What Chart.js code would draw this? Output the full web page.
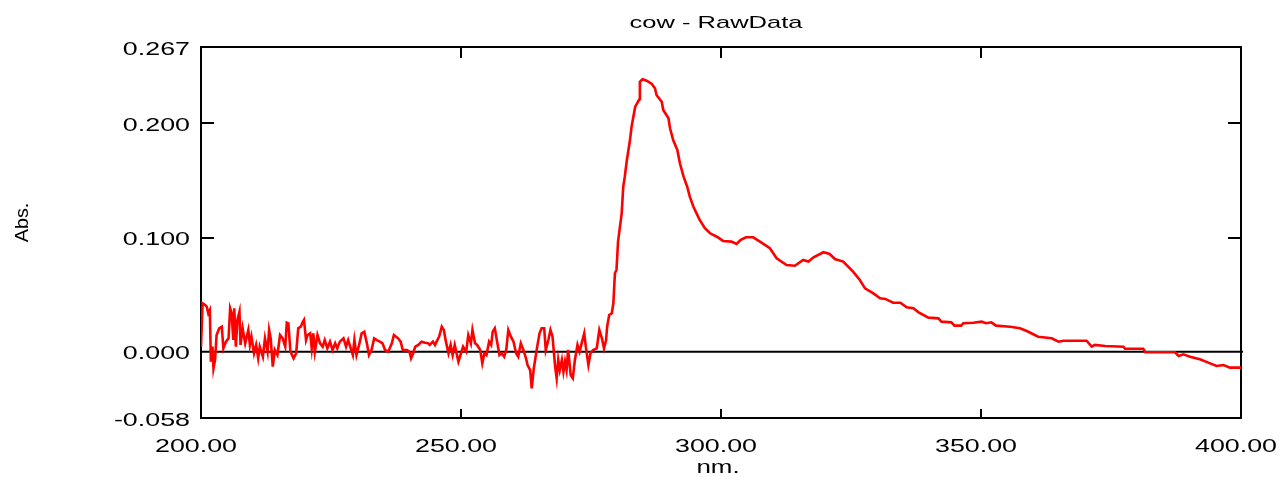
<!DOCTYPE html>
<html lang="en">
<head>
  <meta charset="UTF-8">
  <title>cow - RawData</title>
  <script src="https://cdn.jsdelivr.net/npm/chart.js"></script>
  <style>
    html, body {
      margin: 0;
      padding: 0;
      background: #ffffff;
    }
    #box {
      width: 1280px;
      height: 477px;
      position: relative;
    }
  </style>
</head>
<body>
  <div id="box">
    <canvas id="spectrum"></canvas>
  </div>

  <script>
    // wavelength (nm.) and absorbance
    const wavelength = [
      200.0, 200.3, 200.8, 201.1, 201.4, 201.7, 201.9, 202.2, 202.4, 202.7,
      203.0, 203.5, 204.0, 204.3, 204.8, 205.3, 205.6, 205.9, 206.2, 206.4,
      206.7, 207.0, 207.4, 207.6, 208.0, 208.5, 209.1, 209.4, 209.7, 210.2,
      210.6, 211.0, 211.3, 211.9, 212.3, 212.8, 213.1, 213.4, 213.8, 214.2,
      214.7, 215.2, 215.7, 216.2, 216.5, 216.8, 217.2, 217.8, 218.3, 218.7,
      219.2, 219.6, 219.8, 220.2, 220.5, 221.0, 221.3, 221.6, 221.9, 222.4,
      222.9, 223.4, 223.8, 224.3, 224.8, 225.3, 225.8, 226.2, 226.7, 227.4,
      227.9, 228.3, 228.8, 229.2, 229.5, 229.9, 230.4, 230.9, 231.4, 231.9,
      232.3, 232.8, 233.3, 233.8, 234.4, 234.9, 235.4, 236.0, 236.7, 237.1,
      237.9, 238.4, 238.8, 239.6, 240.1, 240.4, 240.8, 241.2, 241.8, 242.4,
      243.1, 243.7, 244.0, 244.6, 245.0, 245.3, 245.8, 246.3, 246.7, 247.1,
      247.6, 248.0, 248.4, 248.8, 249.5, 249.9, 250.4, 251.0, 251.4, 251.9,
      252.2, 252.7, 253.1, 253.7, 254.1, 254.5, 254.9, 255.4, 255.8, 256.1,
      256.5, 257.0, 257.4, 257.8, 258.3, 258.7, 259.1, 259.6, 260.1, 260.6,
      261.0, 261.5, 262.0, 262.5, 262.8, 263.3, 263.6, 264.0, 264.6, 265.1,
      265.5, 266.0, 266.3, 266.8, 267.2, 267.6, 268.1, 268.4, 268.7, 269.0,
      269.4, 269.7, 270.0, 270.3, 270.6, 271.1, 271.5, 271.9, 272.4, 272.8,
      273.2, 273.7, 274.0, 274.5, 274.9, 275.4, 276.1, 276.6, 277.1, 277.5,
      277.9, 278.1, 278.5, 279.0, 279.3, 279.6, 279.9, 280.2, 280.9, 281.2,
      281.5, 281.9, 282.5, 282.8, 283.5, 284.3, 284.4, 284.9, 285.7, 286.7,
      287.3, 287.6, 288.6, 288.9, 289.9, 290.2, 290.8, 291.6, 292.1, 292.8,
      293.5, 294.0, 294.7, 295.3, 295.9, 296.9, 297.9, 299.2, 300.4, 302.0,
      303.0, 303.8, 304.8, 306.2, 307.5, 309.4, 310.7, 312.6, 314.2, 315.8,
      316.8, 317.8, 319.7, 320.9, 321.9, 323.5, 325.4, 326.7, 327.7, 329.3,
      330.6, 331.6, 333.1, 334.5, 335.7, 337.0, 338.0, 339.9, 341.8, 342.4,
      344.3, 344.9, 346.2, 346.6, 348.5, 350.1, 351.0, 352.0, 352.9, 355.6,
      357.5, 358.8, 361.0, 363.6, 364.9, 365.8, 370.3, 371.3, 371.9, 373.9,
      377.4, 377.7, 381.2, 381.6, 387.3, 388.0, 388.9, 390.2, 392.1, 393.7,
      395.3, 396.6, 397.9, 400.0
    ];
    const absorbance = [
      0.0045, 0.0425, 0.0410, 0.0395, 0.0337, 0.0366, -0.0086, 0.0045, -0.0145, -0.0072,
      0.0147, 0.0206, 0.0220, 0.0030, 0.0089, 0.0118, 0.0381, 0.0337, 0.0103, 0.0381,
      0.0045, 0.0279, 0.0352, 0.0060, 0.0206, 0.0074, 0.0191, 0.0060, 0.0133, -0.0013,
      0.0060, -0.0057, 0.0045, -0.0043, 0.0118, 0.0001, 0.0191, 0.0118, -0.0130, 0.0016,
      -0.0028, 0.0147, 0.0118, 0.0045, 0.0255, 0.0249, 0.0001, -0.0057, -0.0013, 0.0206,
      0.0220, 0.0264, 0.0279, 0.0103, 0.0147, 0.0162, 0.0030, 0.0162, 0.0001, 0.0147,
      0.0074, 0.0045, 0.0103, 0.0030, 0.0089, 0.0016, 0.0074, 0.0030, 0.0089, 0.0118,
      0.0045, 0.0103, 0.0030, -0.0028, 0.0103, -0.0028, 0.0060, 0.0162, 0.0176, 0.0074,
      -0.0028, 0.0016, 0.0118, 0.0103, 0.0089, 0.0074, 0.0016, 0.0001, 0.0074, 0.0147,
      0.0118, 0.0089, 0.0016, 0.0016, 0.0001, -0.0057, -0.0013, 0.0045, 0.0060, 0.0089,
      0.0080, 0.0074, 0.0060, 0.0089, 0.0060, 0.0089, 0.0133, 0.0220, 0.0191, 0.0089,
      -0.0013, 0.0060, -0.0028, 0.0060, -0.0086, -0.0028, 0.0045, 0.0001, 0.0147, 0.0074,
      0.0191, 0.0074, 0.0060, 0.0016, -0.0101, -0.0013, -0.0028, 0.0089, 0.0060, 0.0176,
      0.0206, 0.0074, -0.0028, -0.0013, -0.0043, 0.0016, 0.0191, 0.0133, 0.0089, -0.0013,
      -0.0043, 0.0074, 0.0016, -0.0057, -0.0116, -0.0160, -0.0320, -0.0145, 0.0030, 0.0162,
      0.0206, 0.0206, 0.0016, 0.0103, 0.0191, 0.0133, -0.0130, -0.0232, -0.0072, -0.0160,
      -0.0072, -0.0174, -0.0086, -0.0160, 0.0016, -0.0203, -0.0232, -0.0072, 0.0060, 0.0001,
      0.0074, 0.0162, 0.0045, -0.0116, -0.0013, 0.0016, 0.0030, 0.0191, 0.0118, 0.0030,
      0.0103, 0.0220, 0.0322, 0.0337, 0.0425, 0.0688, 0.0717, 0.0965, 0.1213, 0.1446,
      0.1534, 0.1680, 0.1855, 0.1972, 0.2147, 0.2212, 0.2366, 0.2387, 0.2375, 0.2346,
      0.2308, 0.2250, 0.2191, 0.2118, 0.2046, 0.1958, 0.1855, 0.1768, 0.1651, 0.1534,
      0.1446, 0.1359, 0.1271, 0.1213, 0.1155, 0.1082, 0.1038, 0.1008, 0.0971, 0.0965,
      0.0944, 0.0980, 0.1003, 0.1003, 0.0965, 0.0907, 0.0819, 0.0760, 0.0754, 0.0804,
      0.0790, 0.0828, 0.0872, 0.0857, 0.0813, 0.0790, 0.0702, 0.0629, 0.0556, 0.0512,
      0.0469, 0.0463, 0.0430, 0.0430, 0.0390, 0.0381, 0.0346, 0.0299, 0.0293, 0.0264,
      0.0258, 0.0229, 0.0229, 0.0250, 0.0255, 0.0264, 0.0250, 0.0258, 0.0229, 0.0220,
      0.0206, 0.0182, 0.0132, 0.0118, 0.0088, 0.0097, 0.0097, 0.0045, 0.0060, 0.0051,
      0.0045, 0.0027, 0.0027, -0.0004, -0.0004, -0.0037, -0.0022, -0.0043, -0.0066, -0.0095,
      -0.0124, -0.0116, -0.0139, -0.0139
    ];

    const xTickValues = [200, 250, 300, 350, 400];
    const xTickLabels = ["200.00", "250.00", "300.00", "350.00", "400.00"];
    const yTickValues = [0.267, 0.2, 0.1, 0.0, -0.058];
    const yTickLabels = ["0.267", "0.200", "0.100", "0.000", "-0.058"];

    const chartTitle = "cow - RawData";
    const xTitle = "nm.";
    const yTitle = "Abs.";

    const FONT = "'Liberation Sans', Arial, sans-serif";

    // the reference text is drawn wide, so squeeze it through a horizontal scale
    function wideText(ctx, text, x, y, size, sx, align) {
      ctx.save();
      ctx.translate(x, y);
      ctx.scale(sx, 1);
      ctx.font = size + "px " + FONT;
      ctx.fillStyle = "#000";
      ctx.textAlign = align;
      ctx.textBaseline = "alphabetic";
      ctx.fillText(text, 0, 0);
      ctx.restore();
    }

    const framePlugin = {
      id: "frame",
      beforeDatasetsDraw(chart) {
        const ctx = chart.ctx;
        const a = chart.chartArea;
        const xs = chart.scales.x, ys = chart.scales.y;
        ctx.save();
        ctx.strokeStyle = "#000";
        ctx.lineWidth = 2;
        ctx.strokeRect(a.left, a.top, a.right - a.left, a.bottom - a.top);

        ctx.beginPath();
        // zero line
        const y0 = ys.getPixelForValue(0);
        ctx.moveTo(a.left, y0);
        ctx.lineTo(a.right + 2, y0);
        // inward ticks
        xTickValues.slice(1, -1).forEach(v => {
          const px = Math.round(xs.getPixelForValue(v));
          ctx.moveTo(px, a.top);
          ctx.lineTo(px, a.top + 11);
          ctx.moveTo(px, a.bottom);
          ctx.lineTo(px, a.bottom - 9);
        });
        yTickValues.slice(1, -1).forEach(v => {
          if (v === 0) return;
          const py = Math.round(ys.getPixelForValue(v));
          ctx.moveTo(a.left, py);
          ctx.lineTo(a.left + 13, py);
          ctx.moveTo(a.right, py);
          ctx.lineTo(a.right - 13, py);
        });
        ctx.stroke();
        ctx.restore();
      },
      afterDraw(chart) {
        const ctx = chart.ctx;
        const a = chart.chartArea;
        const xs = chart.scales.x, ys = chart.scales.y;

        yTickValues.forEach((v, i) => {
          const py = ys.getPixelForValue(v);
          wideText(ctx, yTickLabels[i], a.left - 11, py + 7.5, 18.5, 1.45, "right");
        });
        xTickValues.forEach((v, i) => {
          const px = xs.getPixelForValue(v);
          wideText(ctx, xTickLabels[i], px - 5, a.bottom + 34, 18.5, 1.45, "center");
        });

        const cx = (a.left + a.right) / 2;
        wideText(ctx, chartTitle, cx - 5, 28, 17, 1.5, "center");
        wideText(ctx, xTitle, cx - 3, 473, 18.5, 1.4, "center");

        ctx.save();
        ctx.translate(28, (a.top + a.bottom) / 2 - 10);
        ctx.rotate(-Math.PI / 2);
        ctx.scale(1.1, 1);
        ctx.font = "18px " + FONT;
        ctx.fillStyle = "#000";
        ctx.textAlign = "center";
        ctx.fillText(yTitle, 0, 0);
        ctx.restore();
      }
    };

    const points = wavelength.map((w, i) => ({ x: w, y: absorbance[i] }));

    new Chart(document.getElementById("spectrum"), {
      type: "line",
      data: {
        datasets: [{
          label: chartTitle,
          data: points,
          borderColor: "#ff0000",
          borderWidth: 2.6,
          pointRadius: 0,
          tension: 0,
          fill: false
        }]
      },
      options: {
        responsive: true,
        maintainAspectRatio: false,
        animation: false,
        layout: {
          padding: { left: 201, right: 39, top: 47, bottom: 59 }
        },
        plugins: {
          legend: { display: false },
          tooltip: { enabled: false },
          title: { display: false }
        },
        scales: {
          x: {
            type: "linear",
            display: false,
            min: 200,
            max: 400
          },
          y: {
            type: "linear",
            display: false,
            min: -0.058,
            max: 0.267
          }
        }
      },
      plugins: [framePlugin]
    });
  </script>
</body>
</html>
